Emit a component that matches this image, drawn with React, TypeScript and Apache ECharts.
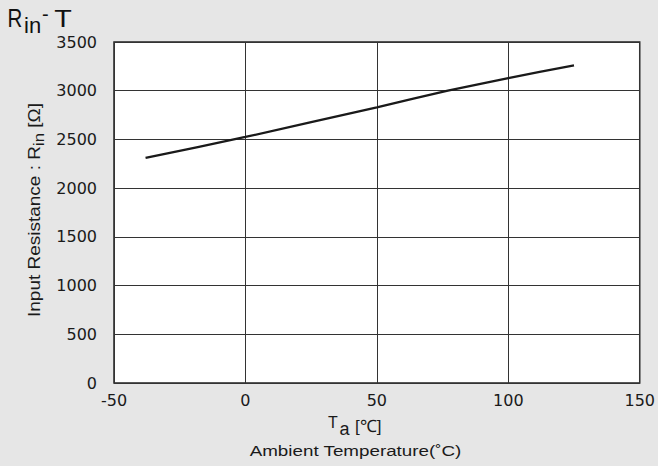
import React, { useEffect, useRef } from "react";
import * as echarts from "echarts";

const temps = [-38, 0, 50, 77, 100, 125];
const resistance = [2310, 2525, 2830, 3000, 3130, 3260];
const xTicks = [-50, 0, 50, 100, 150];
const yTicks = [0, 500, 1000, 1500, 2000, 2500, 3000, 3500];

const FONT = "Liberation Sans, Arial, Helvetica, sans-serif";
const TICKFONT = "DejaVu Sans, Liberation Sans, sans-serif";

function measure(text: string, size: number) {
  const c = document.createElement("canvas").getContext("2d");
  if (!c) return text.length * size * 0.55;
  c.font = `${size}px ${FONT}`;
  return c.measureText(text).width;
}

// y for middle-aligned text given desired baseline
const mid = (baseline: number, size: number) => baseline - 0.35 * size;

export default function App() {
  const ref = useRef<HTMLDivElement>(null);
  useEffect(() => {
    if (!ref.current) return;
    const chart = echarts.init(ref.current, undefined, { renderer: "svg" });

    const txt = "#1a1a1a";

    // y-axis name pieces
    const y1 = "Input Resistance : R";
    const y2 = "in";
    const y3 = " [Ω]";
    const yw1 = measure(y1, 16);
    const yw2 = measure(y2, 14);
    const yw3 = measure(y3, 16);
    const yW = yw1 + yw2 + yw3;
    const yScale = 214 / yW;

    const amb = "Ambient Temperature(˚C)";
    const ambScale = 212 / measure(amb, 15);

    const t = (text: string, size: number, x: number, y: number, extra: any = {}) => ({
      type: "text",
      x,
      y,
      ...extra,
      style: {
        text,
        fontSize: size,
        fontFamily: FONT,
        fill: txt,
        textVerticalAlign: "middle",
        ...(extra.style || {}),
      },
    });

    chart.setOption({
      animation: false,
      backgroundColor: "#e6e6e6",
      grid: {
        left: 114,
        right: 16,
        top: 42,
        bottom: 83,
        show: true,
        backgroundColor: "#ffffff",
        borderColor: "#222222",
        borderWidth: 1.5,
      },
      xAxis: {
        type: "value",
        min: xTicks[0],
        max: xTicks[xTicks.length - 1],
        interval: 50,
        axisLine: { show: false },
        axisTick: { show: false },
        axisLabel: {
          color: txt,
          fontSize: 16,
          fontFamily: TICKFONT,
          margin: 9,
          showMinLabel: true,
          showMaxLabel: true,
          formatter: (v: number) => String(v),
        },
        splitLine: { show: true, lineStyle: { color: "#333333", width: 1 } },
      },
      yAxis: {
        type: "value",
        min: yTicks[0],
        max: yTicks[yTicks.length - 1],
        interval: 500,
        axisLine: { show: false },
        axisTick: { show: false },
        axisLabel: {
          color: txt,
          fontSize: 16,
          fontFamily: TICKFONT,
          margin: 17,
          formatter: (v: number) => String(v),
        },
        splitLine: { show: true, lineStyle: { color: "#333333", width: 1 } },
      },
      series: [
        {
          type: "line",
          data: temps.map((tt, i) => [tt, resistance[i]]),
          showSymbol: false,
          smooth: 0.2,
          lineStyle: { color: "#1a1a1a", width: 2.3 },
        },
      ],
      graphic: [
        // title R_in-T
        t("R", 25, 7.5, mid(26.7, 25), { scaleX: 0.82, style: { fill: "#111" } }),
        t("in", 22, 24, mid(33, 22), { style: { fill: "#111" } }),
        t("-", 20, 42, mid(21, 20), { style: { fill: "#111" } }),
        t("T", 23, 63, mid(26.7, 23), {
          scaleX: 1.25,
          style: { fill: "#111", textAlign: "center" },
        }),
        // y-axis name (rotated)
        {
          type: "group",
          x: 35,
          y: 210,
          rotation: Math.PI / 2,
          children: [
            {
              type: "group",
              scaleX: yScale,
              children: [
                t(y1, 16, -yW / 2, 0),
                t(y2, 14, -yW / 2 + yw1, 4),
                t(y3, 16, -yW / 2 + yw1 + yw2, 0),
              ],
            },
          ],
        },
        // x-axis name T_a [℃]
        t("T", 16, 328, mid(428.5, 16)),
        t("a", 18, 339.5, mid(435.5, 18)),
        t("[℃]", 17, 355, mid(432, 17)),
        t(amb, 15, 355.5, mid(456, 15), {
          scaleX: ambScale,
          style: { textAlign: "center" },
        }),
      ],
    });
    return () => chart.dispose();
  }, []);
  return (
    <div
      ref={ref}
      style={{ position: "fixed", left: 0, top: 0, width: 658, height: 466 }}
    />
  );
}
